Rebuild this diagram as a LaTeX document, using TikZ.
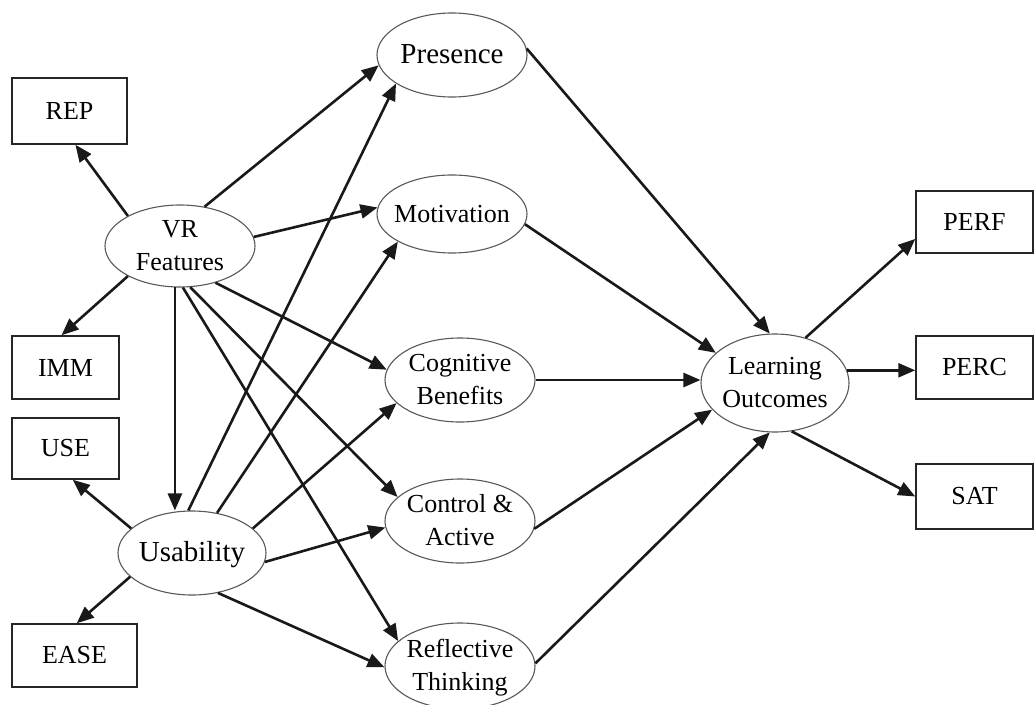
\documentclass[tikz,border=0pt]{standalone}
\usepackage{fontspec}
\setmainfont{Liberation Serif}
\usetikzlibrary{shapes.geometric,arrows.meta}
% centred label of fixed (zero) size, so the oval keeps its own dimensions
\newcommand\ovaltext[1]{\makebox[0pt]{\raisebox{-8pt}[0pt][0pt]{\begin{tabular}{@{}c@{}}#1\end{tabular}}}}

\begin{document}
\begin{tikzpicture}[x=1pt,y=-1pt,
  latent/.style={ellipse, draw=black!65, line width=1.1pt, inner sep=0pt,
    minimum width=150pt, minimum height=84pt, font=\fontsize{26}{33}\selectfont},
  bigtext/.style={font=\fontsize{29}{33}\selectfont},
  indicator/.style={rectangle, draw=black!85, line width=1.5pt, inner sep=0pt,
    minimum height=63pt, font=\fontsize{26}{31}\selectfont},
  link/.style={line width=2.6pt, draw=black!90, -{Triangle[length=17pt,width=14pt]}}
]
\fill[white] (0,0) rectangle (1035,704);
\useasboundingbox (0,0) rectangle (1035,704);

% constructs
\node[latent, bigtext] (pr) at (452,55)  {\ovaltext{Presence}};
\node[latent, minimum height=82pt] (vr) at (180,246) {\ovaltext{VR\\Features}};
\node[latent, minimum height=78pt] (mo) at (452,214) {\ovaltext{Motivation}};
\node[latent] (cb) at (460,380) {\ovaltext{Cognitive\\Benefits}};
\node[latent] (ca) at (460,521) {\ovaltext{Control \&\\Active}};
\node[latent, minimum height=86pt] (rt) at (460,666) {\ovaltext{Reflective\\Thinking}};
\node[latent, bigtext, minimum width=148pt] (us) at (192,553) {\ovaltext{Usability}};
\node[latent, minimum width=148pt, minimum height=98pt] (lo) at (775,383) {\ovaltext{Learning\\Outcomes}};

% measured indicators
\node[indicator, minimum width=115pt, minimum height=66pt] (rep) at (69.5,111) {REP};
\node[indicator, minimum width=107pt] (imm) at (65.5,367.5) {IMM};
\node[indicator, minimum width=107pt, minimum height=61pt] (use) at (65.5,448.5) {USE};
\node[indicator, minimum width=125pt] (ease) at (74.5,655.5) {EASE};
\node[indicator, minimum width=117pt, minimum height=62pt] (perf) at (974.5,222) {PERF};
\node[indicator, minimum width=117pt] (perc) at (974.5,367.5) {PERC};
\node[indicator, minimum width=117pt, minimum height=65pt] (sat) at (974.5,496.5) {SAT};

% VR features paths
\draw[link] (vr.150) -- (rep.-80);
\draw[link] (vr.210) -- (imm.97);
\draw[link] (vr.58)  -- (pr.188);
\draw[link] (vr.7)   -- (mo.175);
\draw[link] (vr.314) -- (cb.172);
\draw[link] (vr.284) -- (ca.159);
\draw[link] (vr.274) -- (rt.158);
\draw[link] (vr.263) -- (vr.263 |- us.north);

% usability paths
\draw[link] (us.158) -- (use.-77);
\draw[link] (us.201) -- (ease.86);
\draw[link] (us.95)  -- (pr.207);
\draw[link] (us.58)  -- (mo.207);
\draw[link] (us.22)  -- (cb.200);
\draw[link] (us.-7)  -- (ca.185);
\draw[link] (us.303) -- (rt.181);

% mediators to learning outcomes
\draw[link] (pr.5)   -- (lo.96);
\draw[link] (mo.-8)  -- (lo.153);
\draw[link] (cb.east) -- (cb.east -| lo.west);
\draw[link] (ca.-6)  -- (lo.203);
\draw[link] (rt.2)   -- (lo.264);

% learning outcome indicators
\draw[link] (lo.56)  -- (perf.196);
\draw[link] (lo.10)  -- (lo.10 -| perc.west);
\draw[link] (lo.-71) -- (sat.west);
\end{tikzpicture}
\end{document}
